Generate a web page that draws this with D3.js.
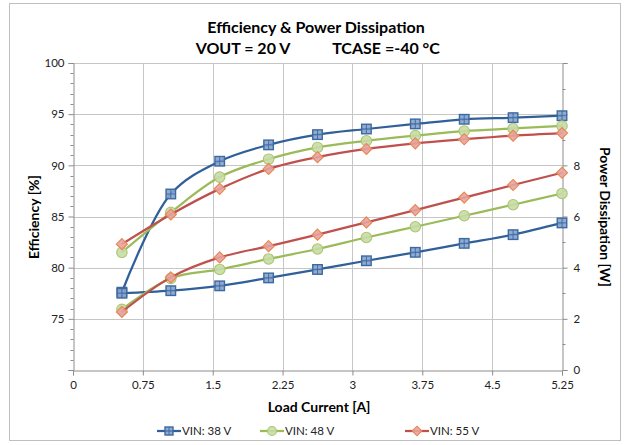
<!DOCTYPE html>
<html><head><meta charset="utf-8">
<script src="https://cdn.jsdelivr.net/npm/d3@7"></script>
<style>
body{margin:0;background:#fff}
text{font-family:Lato,"Open Sans",sans-serif}
</style>
</head><body>
<svg id="c" width="628" height="445"></svg>
<script>
const loadCurrent = [0.525,1.05,1.575,2.1,2.625,3.15,3.675,4.2,4.725,5.25];
const eff38 = [77.6,87.2,90.4,92.0,93.0,93.55,94.05,94.5,94.66,94.85];
const eff48 = [81.5,85.4,88.85,90.6,91.75,92.4,92.9,93.35,93.6,93.85];
const eff55 = [82.3,85.2,87.7,89.65,90.8,91.6,92.15,92.55,92.9,93.15];
const pd38 = [3.0,3.1,3.29,3.6,3.93,4.27,4.6,4.95,5.29,5.75];
const pd48 = [2.37,3.58,3.93,4.34,4.73,5.18,5.6,6.03,6.46,6.9];
const pd55 = [2.27,3.62,4.4,4.84,5.29,5.77,6.25,6.74,7.23,7.71];
const seriesNames = ["VIN: 38 V","VIN: 48 V","VIN: 55 V"];
const xTicks = [0,0.75,1.5,2.25,3,3.75,4.5,5.25];
const leftTicks = [70,75,80,85,90,95,100];
const leftTickLabels = ["","75","80","85","90","95","100"];
const rightTicks = [0,2,4,6,8,10,12];
const rightTickLabels = ["0","2","4","6","8","",""];
const titleLine1 = "Efficiency & Power Dissipation";
const titleLine2 = ["VOUT = 20 V","TCASE =-40 °C"];

const svg = d3.select("#c");
const L=73,R=562,T=63,B=370;
const x = d3.scaleLinear().domain([0,5.25]).range([L,R]);
const yL = d3.scaleLinear().domain([70,100]).range([B,T]);
const yR = d3.scaleLinear().domain([0,12]).range([B,T]);

// outer border
svg.append("rect").attr("x",9.5).attr("y",3.5).attr("width",611).attr("height",437)
  .attr("fill","#fff").attr("stroke","#bfbfbf").attr("stroke-width",1);

// gridlines
const grid = svg.append("g").attr("stroke","#c6c6c6").attr("stroke-width",1);
leftTicks.slice(1).forEach(v=>grid.append("line").attr("x1",L).attr("x2",R)
  .attr("y1",Math.round(yL(v))+0.5).attr("y2",Math.round(yL(v))+0.5));
xTicks.slice(1,-1).forEach(v=>grid.append("line").attr("y1",T).attr("y2",B)
  .attr("x1",Math.round(x(v))+0.5).attr("x2",Math.round(x(v))+0.5));

// axes
const axisColor="#8c8c8c";
const xAxis = svg.append("g").attr("transform",`translate(0,${B+0.5})`)
  .call(d3.axisBottom(x).tickValues(xTicks).tickFormat(d=>String(d)).tickSize(5).tickPadding(5));
const yAxisL = svg.append("g").attr("transform",`translate(${L+0.5},0)`)
  .call(d3.axisLeft(yL).tickValues(leftTicks).tickFormat((d,i)=>leftTickLabels[i]).tickSize(5).tickPadding(4));
const yAxisR = svg.append("g").attr("transform",`translate(${R+0.5},0)`)
  .call(d3.axisRight(yR).tickValues(rightTicks).tickFormat((d,i)=>rightTickLabels[i]).tickSize(5).tickPadding(6));
// minor ticks
const minorL = d3.range(70,100,1).filter(v=>v%5!==0);
yAxisL.selectAll(".minor").data(minorL).enter().append("line").attr("class","minor")
  .attr("x1",-3).attr("x2",0).attr("y1",d=>Math.round(yL(d))+0.5).attr("y2",d=>Math.round(yL(d))+0.5);
const minorR = [1,3,5,7,9,11];
yAxisR.selectAll(".minor").data(minorR).enter().append("line").attr("class","minor")
  .attr("x1",0).attr("x2",3).attr("y1",d=>Math.round(yR(d))+0.5).attr("y2",d=>Math.round(yR(d))+0.5);
[xAxis,yAxisL,yAxisR].forEach(g=>{
  g.select(".domain").attr("stroke",axisColor);
  g.selectAll("line").attr("stroke",axisColor);
  g.selectAll("text").attr("font-size",11.5).attr("fill","#222").attr("font-family","Lato,'Open Sans',sans-serif");
});

// series
const colors = [
  {line:"#30609a", fill:"#86a2cb", stroke:"#3c69a0", shape:"square"},
  {line:"#9bbb59", fill:"#c8dba5", stroke:"#abc674", shape:"circle"},
  {line:"#c0504d", fill:"#e6a3a1", stroke:"#e8864e", shape:"diamond"}
];
function marker(g, cx, cy, c, s){
  if(c.shape==="square"){
    g.append("rect").attr("x",cx-s/2).attr("y",cy-s/2).attr("width",s).attr("height",s)
      .attr("fill",c.fill).attr("fill-opacity",0.9).attr("stroke",c.stroke).attr("stroke-width",1.4);
    g.append("line").attr("x1",cx-s/2).attr("x2",cx+s/2).attr("y1",cy).attr("y2",cy).attr("stroke",c.stroke).attr("stroke-width",0.9);
    g.append("line").attr("y1",cy-s/2).attr("y2",cy+s/2).attr("x1",cx).attr("x2",cx).attr("stroke",c.stroke).attr("stroke-width",0.9);
  } else if(c.shape==="circle"){
    g.append("circle").attr("cx",cx).attr("cy",cy).attr("r",s/2+0.5)
      .attr("fill",c.fill).attr("fill-opacity",0.9).attr("stroke",c.stroke).attr("stroke-width",1.1);
  } else {
    const h=s/2+0.8;
    g.append("path").attr("d",`M${cx},${cy-h}L${cx+h},${cy}L${cx},${cy+h}L${cx-h},${cy}Z`)
      .attr("fill",c.fill).attr("fill-opacity",0.9).attr("stroke",c.stroke).attr("stroke-width",1.1);
  }
}
const effData=[eff38,eff48,eff55], pdData=[pd38,pd48,pd55];
function drawSeries(vals, scale, c){
  const pts = loadCurrent.map((d,i)=>[x(d),scale(vals[i])]);
  const line = d3.line().curve(d3.curveCatmullRom.alpha(0.5));
  svg.append("path").attr("d",line(pts)).attr("fill","none").attr("stroke",c.line).attr("stroke-width",2.25);
  const g = svg.append("g");
  pts.forEach(p=>marker(g,p[0],p[1],c,9.5));
}
[0,1,2].forEach(i=>drawSeries(effData[i],yL,colors[i]));
[0,1,2].forEach(i=>drawSeries(pdData[i],yR,colors[i]));

// titles
svg.append("text").attr("x",316).attr("y",33).attr("text-anchor","middle")
  .attr("font-weight","bold").attr("font-size",16).attr("fill","#000").text(titleLine1);
svg.append("text").attr("x",243).attr("y",54).attr("text-anchor","middle")
  .attr("font-weight","bold").attr("font-size",16).attr("fill","#000").text(titleLine2[0]);
svg.append("text").attr("x",386).attr("y",54).attr("text-anchor","middle")
  .attr("font-weight","bold").attr("font-size",16).attr("fill","#000").text(titleLine2[1]);
svg.append("text").attr("x",319).attr("y",412).attr("text-anchor","middle")
  .attr("font-weight","bold").attr("font-size",14).text("Load Current [A]");
svg.append("text").attr("transform","translate(39,217) rotate(-90)").attr("text-anchor","middle")
  .attr("font-weight","bold").attr("font-size",14).text("Efficiency [%]");
svg.append("text").attr("transform","translate(600,217) rotate(90)").attr("text-anchor","middle")
  .attr("font-weight","bold").attr("font-size",14).text("Power Dissipation [W]");

// legend
const legX=[157,260,405];
seriesNames.forEach((n,i)=>{
  const g=svg.append("g");
  const ly=431;
  g.append("line").attr("x1",legX[i]).attr("x2",legX[i]+24).attr("y1",ly).attr("y2",ly)
    .attr("stroke",colors[i].line).attr("stroke-width",2.25);
  marker(g,legX[i]+12,ly,colors[i],8);
  g.append("text").attr("x",legX[i]+25).attr("y",ly+4).attr("font-size",11.5).attr("fill","#222").text(n);
});
</script>
</body></html>
